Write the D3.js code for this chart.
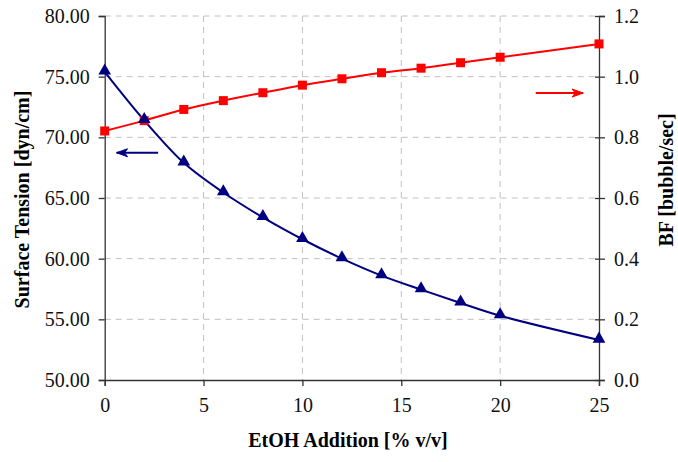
<!DOCTYPE html>
<html>
<head>
<meta charset="utf-8">
<script src="https://cdn.jsdelivr.net/npm/d3@7"></script>
<style>
  body { margin: 0; background: #fff; }
</style>
</head>
<body>
<div id="chart"></div>
<script>
// EtOH addition (% v/v)
const etoh = [0, 2, 4, 6, 8, 10, 12, 14, 16, 18, 20, 25];
// surface tension, dyn/cm (left axis)
const surfaceTension = [75.4, 71.4, 67.9, 65.45, 63.4, 61.6, 60.0, 58.6, 57.45, 56.35, 55.3, 53.3];
// bubble frequency, bubble/sec (right axis)
const bubbleFreq = [0.821, 0.855, 0.892, 0.921, 0.947, 0.972, 0.993, 1.013, 1.028, 1.046, 1.064, 1.108];

const xTicks = [0, 5, 10, 15, 20, 25];
const leftTicks = [50, 55, 60, 65, 70, 75, 80];
const rightTicks = [0, 0.2, 0.4, 0.6, 0.8, 1.0, 1.2];

const FONT = "'Liberation Serif', 'Times New Roman', serif";
const W = 678, H = 462;
const margin = { top: 16, right: 79, bottom: 82, left: 104.7 };
const width = W - margin.left - margin.right;
const height = H - margin.top - margin.bottom;

const svg = d3.select('#chart').append('svg')
  .attr('width', W).attr('height', H)
  .attr('font-family', FONT);

const g = svg.append('g').attr('transform', `translate(${margin.left},${margin.top})`);

const x = d3.scaleLinear().domain([0, 25]).range([0, width]);
const yL = d3.scaleLinear().domain([50, 80]).range([height, 0]);
const yR = d3.scaleLinear().domain([0, 1.2]).range([height, 0]);

// dashed grid
g.append('g').selectAll('line').data(leftTicks.slice(1)).enter().append('line')
  .attr('x1', 0).attr('x2', width)
  .attr('y1', d => yL(d)).attr('y2', d => yL(d))
  .attr('stroke', '#c0c0c0').attr('stroke-width', 1).attr('stroke-dasharray', '6,5');
g.append('g').selectAll('line').data(xTicks.slice(1, -1)).enter().append('line')
  .attr('x1', d => x(d)).attr('x2', d => x(d))
  .attr('y1', 0).attr('y2', height)
  .attr('stroke', '#c0c0c0').attr('stroke-width', 1).attr('stroke-dasharray', '6,5');

// axes
const axL = g.append('g').call(d3.axisLeft(yL).tickValues(leftTicks).tickFormat(d3.format('.2f')).tickSize(6).tickPadding(9));
const axR = g.append('g').attr('transform', `translate(${width},0)`)
  .call(d3.axisRight(yR).tickValues(rightTicks).tickFormat(d3.format('.1f')).tickSize(6).tickPadding(9));
const axB = g.append('g').attr('transform', `translate(0,${height})`)
  .call(d3.axisBottom(x).tickValues(xTicks).tickSize(6).tickPadding(12));

[axL, axR, axB].forEach(a => {
  a.attr('font-family', FONT);
  a.select('.domain').attr('stroke', '#333').attr('stroke-width', 1.3);
  a.selectAll('.tick line').attr('stroke', '#333').attr('stroke-width', 1.3);
  a.selectAll('.tick text').attr('font-size', 20).attr('fill', '#111');
});
// right ticks cross the axis
axR.selectAll('.tick line').attr('x1', -4);
axB.selectAll('.tick text').attr('dy', '0.71em');

// lines
const lineL = d3.line().x((d, i) => x(etoh[i])).y(d => yL(d)).curve(d3.curveCatmullRom);
const lineR = d3.line().x((d, i) => x(etoh[i])).y(d => yR(d)).curve(d3.curveCatmullRom);

g.append('path').datum(bubbleFreq).attr('d', lineR)
  .attr('fill', 'none').attr('stroke', '#ff0000').attr('stroke-width', 2);
g.append('path').datum(surfaceTension).attr('d', lineL)
  .attr('fill', 'none').attr('stroke', '#000080').attr('stroke-width', 2);

// markers
g.append('g').selectAll('rect').data(bubbleFreq).enter().append('rect')
  .attr('x', (d, i) => x(etoh[i]) - 4.5).attr('y', d => yR(d) - 4.5)
  .attr('width', 9).attr('height', 9).attr('fill', '#ff0000');
const tri = d3.symbol().type(d3.symbolTriangle).size(70);
g.append('g').selectAll('path').data(surfaceTension).enter().append('path')
  .attr('d', tri)
  .attr('transform', (d, i) => `translate(${x(etoh[i])},${yL(d) - 1})`)
  .attr('fill', '#000080');

// arrows pointing to each series' axis
function arrow(x1, x2, y, color) {
  g.append('line').attr('x1', x1).attr('x2', x2).attr('y1', y).attr('y2', y)
    .attr('stroke', color).attr('stroke-width', 2);
  const dir = Math.sign(x2 - x1);
  g.append('path')
    .attr('d', `M${x2},${y} L${x2 - dir * 11},${y - 4} L${x2 - dir * 8},${y} L${x2 - dir * 11},${y + 4} Z`)
    .attr('fill', color).attr('stroke', color).attr('stroke-width', 1);
}
arrow(x(2.7), x(0.6), yL(68.73), '#000080');
arrow(x(21.8), x(24.2), yR(0.946), '#ff0000');

// axis titles
svg.append('text').attr('x', 348).attr('y', 447)
  .attr('text-anchor', 'middle').attr('font-size', 20).attr('font-weight', 'bold')
  .text('EtOH Addition [% v/v]');
svg.append('text').attr('transform', `translate(29,199.5) rotate(-90)`)
  .attr('text-anchor', 'middle').attr('font-size', 20).attr('font-weight', 'bold')
  .text('Surface Tension [dyn/cm]');
svg.append('text').attr('transform', `translate(673,180) rotate(-90)`)
  .attr('text-anchor', 'middle').attr('font-size', 20).attr('font-weight', 'bold')
  .text('BF [bubble/sec]');
</script>
</body>
</html>
